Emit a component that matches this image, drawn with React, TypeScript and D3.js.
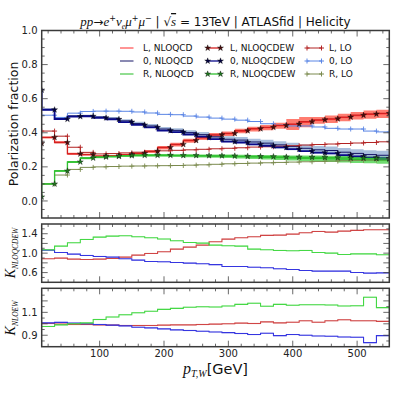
import React from 'react';
import * as d3 from 'd3';

// p_T,W bin edges in GeV, 27 bins of 20 GeV
const binEdges = [10, 30, 50, 70, 90, 110, 130, 150, 170, 190, 210, 230, 250, 270, 290, 310, 330, 350, 370, 390, 410, 430, 450, 470, 490, 510, 530, 550];

// NLO QCD+EW fractions, one value per edge (steps-pre, first point sits on the 10 GeV edge)
const fracL_NLOQCDEW = [0.337, 0.373, 0.343, 0.276, 0.272, 0.263, 0.265, 0.272, 0.279, 0.292, 0.314, 0.332, 0.355, 0.372, 0.388, 0.396, 0.412, 0.424, 0.432, 0.443, 0.451, 0.465, 0.476, 0.482, 0.492, 0.503, 0.51, 0.514];
const frac0_NLOQCDEW = [0.651, 0.535, 0.48, 0.495, 0.497, 0.488, 0.479, 0.463, 0.446, 0.432, 0.413, 0.404, 0.39, 0.377, 0.363, 0.348, 0.343, 0.332, 0.324, 0.314, 0.304, 0.292, 0.283, 0.279, 0.269, 0.261, 0.254, 0.249];
const fracR_NLOQCDEW = [0.024, 0.1, 0.176, 0.229, 0.252, 0.258, 0.262, 0.266, 0.268, 0.268, 0.268, 0.267, 0.267, 0.266, 0.265, 0.264, 0.262, 0.261, 0.26, 0.258, 0.257, 0.256, 0.255, 0.254, 0.252, 0.251, 0.249, 0.247];

// LO fractions, same layout
const fracL_LO = [0.41, 0.41, 0.38, 0.315, 0.285, 0.276, 0.278, 0.282, 0.286, 0.29, 0.294, 0.297, 0.3, 0.303, 0.306, 0.309, 0.312, 0.316, 0.318, 0.321, 0.324, 0.328, 0.331, 0.334, 0.337, 0.34, 0.343, 0.347];
const frac0_LO = [0.503, 0.503, 0.49, 0.515, 0.525, 0.527, 0.527, 0.526, 0.522, 0.516, 0.508, 0.506, 0.498, 0.492, 0.486, 0.48, 0.474, 0.466, 0.453, 0.445, 0.44, 0.44, 0.434, 0.426, 0.422, 0.422, 0.41, 0.405];
const fracR_LO = [0.1, 0.1, 0.152, 0.185, 0.197, 0.2, 0.202, 0.204, 0.205, 0.206, 0.207, 0.208, 0.21, 0.212, 0.215, 0.218, 0.22, 0.222, 0.224, 0.226, 0.228, 0.23, 0.232, 0.234, 0.236, 0.238, 0.24, 0.242];

// NLO QCD fractions per bin and half width of the scale band
const fracL_NLOQCD = [0.372, 0.344, 0.277, 0.272, 0.262, 0.264, 0.27, 0.277, 0.29, 0.312, 0.33, 0.353, 0.37, 0.386, 0.394, 0.41, 0.422, 0.43, 0.441, 0.449, 0.462, 0.473, 0.479, 0.489, 0.5, 0.507, 0.511];
const errL_NLOQCD = [0.006, 0.006, 0.006, 0.006, 0.006, 0.006, 0.007, 0.007, 0.008, 0.01, 0.011, 0.012, 0.012, 0.012, 0.013, 0.013, 0.014, 0.015, 0.018, 0.032, 0.03, 0.02, 0.022, 0.022, 0.022, 0.024, 0.024];
const frac0_NLOQCD = [0.537, 0.484, 0.499, 0.5, 0.492, 0.485, 0.47, 0.454, 0.44, 0.422, 0.414, 0.401, 0.389, 0.376, 0.362, 0.357, 0.346, 0.339, 0.329, 0.32, 0.309, 0.3, 0.296, 0.286, 0.279, 0.272, 0.268];
const err0_NLOQCD = [0.006, 0.006, 0.006, 0.006, 0.007, 0.008, 0.009, 0.01, 0.011, 0.012, 0.013, 0.014, 0.015, 0.016, 0.017, 0.018, 0.019, 0.02, 0.021, 0.022, 0.022, 0.023, 0.024, 0.025, 0.025, 0.026, 0.026];
const fracR_NLOQCD = [0.1, 0.176, 0.228, 0.251, 0.257, 0.261, 0.265, 0.267, 0.267, 0.267, 0.266, 0.265, 0.264, 0.263, 0.262, 0.26, 0.258, 0.256, 0.254, 0.252, 0.25, 0.249, 0.247, 0.245, 0.243, 0.241, 0.239];
const errR_NLOQCD = [0.005, 0.005, 0.006, 0.006, 0.006, 0.007, 0.007, 0.007, 0.008, 0.008, 0.008, 0.009, 0.009, 0.01, 0.01, 0.011, 0.012, 0.013, 0.014, 0.015, 0.016, 0.017, 0.018, 0.019, 0.02, 0.02, 0.021];

// K factors per bin
const kQCDEW_L = [0.884, 0.897, 0.876, 0.87, 0.876, 0.89, 0.918, 0.959, 0.994, 1.028, 1.082, 1.124, 1.165, 1.235, 1.289, 1.317, 1.338, 1.365, 1.371, 1.392, 1.42, 1.447, 1.433, 1.454, 1.468, 1.482, 1.482];
const kQCDEW_0 = [1.062, 1.014, 0.98, 0.953, 0.932, 0.918, 0.884, 0.856, 0.829, 0.822, 0.808, 0.794, 0.781, 0.764, 0.726, 0.726, 0.711, 0.7, 0.678, 0.664, 0.643, 0.629, 0.629, 0.63, 0.602, 0.588, 0.595];
const kQCDEW_R = [1.07, 1.144, 1.214, 1.282, 1.33, 1.35, 1.358, 1.338, 1.317, 1.29, 1.255, 1.22, 1.206, 1.165, 1.152, 1.145, 1.082, 1.07, 1.056, 1.05, 1.056, 1.014, 1.0, 0.973, 0.986, 0.986, 0.967];
const kEW_L = [1.003, 0.997, 0.994, 0.994, 0.991, 0.988, 0.985, 0.985, 0.985, 0.988, 0.991, 0.991, 0.994, 0.997, 1.0, 1.006, 1.003, 1.017, 1.008, 1.014, 1.026, 1.014, 1.026, 1.035, 1.026, 1.026, 1.021];
const kEW_0 = [1.008, 1.012, 1.006, 1.0, 0.994, 0.988, 0.982, 0.97, 0.964, 0.956, 0.947, 0.941, 0.935, 0.929, 0.923, 0.915, 0.906, 0.918, 0.897, 0.906, 0.9, 0.894, 0.891, 0.885, 0.882, 0.836, 0.897];
const kEW_R = [0.977, 0.991, 1.0, 1.008, 1.038, 1.059, 1.079, 1.097, 1.109, 1.126, 1.135, 1.144, 1.149, 1.147, 1.156, 1.17, 1.179, 1.153, 1.17, 1.162, 1.167, 1.167, 1.164, 1.156, 1.158, 1.232, 1.141];

const legendCols = [
  ['L, NLOQCD', '0, NLOQCD', 'R, NLOQCD'],
  ['L, NLOQCDEW', '0, NLOQCDEW', 'R, NLOQCDEW'],
  ['L, LO', '0, LO', 'R, LO'],
];

const col = {
  qcd: ['#ff2a2a', '#141466', '#22bb22'],
  band: ['#ff5040', '#6f93c4', '#33cc33'],
  bandOp: [0.75, 0.6, 0.7],
  ew: ['#d42020', '#0a0a8a', '#30c030'],
  star: ['#4a0a0a', '#000040', '#1f7a1f'],
  lo: ['#b22222', '#5b86e5', '#7b8a4e'],
  k: ['#d04545', '#3535e0', '#45d845'],
};

const sans = 'DejaVu Sans';
const serif = 'Liberation Serif';

export default function App() {
  const x = d3.scaleLinear().domain([10, 550]).range([41.7, 389.3]);
  const yMain = d3.scaleLinear().domain([-0.1, 1.0]).range([218, 30.5]);
  const yK1 = d3.scaleLinear().domain([0.4, 1.6]).range([282.3, 224]);
  const yK2 = d3.scaleLinear().domain([0.8, 1.31]).range([346.7, 288.3]);

  const binPts = (vals: number[]) =>
    binEdges.map((e, i) => [e, vals[Math.min(i, vals.length - 1)]]);
  const edgePts = (vals: number[]) => binEdges.map((e, i) => [e, vals[i]]);

  const stepAfter = (y: any) =>
    d3.line<number[]>().x(d => x(d[0])).y(d => y(d[1])).curve(d3.curveStepAfter);
  const stepBefore = (y: any) =>
    d3.line<number[]>().x(d => x(d[0])).y(d => y(d[1])).curve(d3.curveStepBefore);
  const band = (c: number[], e: number[], y: any) => {
    const pts = binEdges.map((b, i) => {
      const j = Math.min(i, c.length - 1);
      return [b, c[j] - e[j], c[j] + e[j]];
    });
    return d3.area<number[]>().x(d => x(d[0])).y0(d => y(d[1])).y1(d => y(d[2])).curve(d3.curveStepAfter)(pts) || '';
  };

  const star = d3.symbol(d3.symbolStar, 11)() || '';
  const plus = 'M-2.5,0H2.5M0,-2.5V2.5';

  const xMajor = [100, 200, 300, 400, 500];
  const xMinor = d3.range(20, 550, 20).filter(v => v % 100 !== 0);

  const frame = (key: string, y: any, major: number[], minor: number[], labels: number[], fmt: (v: number) => string, xLabels: boolean) => {
    const [yb, yt] = y.range();
    const [xl, xr] = x.range();
    return (
      <g key={key}>
        {xMajor.map(v => (
          <g key={'xM' + v} stroke="#444" strokeWidth={0.8}>
            <line x1={x(v)} x2={x(v)} y1={yb} y2={yb - 6} />
            <line x1={x(v)} x2={x(v)} y1={yt} y2={yt + 6} />
          </g>
        ))}
        {xMinor.map(v => (
          <g key={'xm' + v} stroke="#444" strokeWidth={0.8}>
            <line x1={x(v)} x2={x(v)} y1={yb} y2={yb - 3} />
            <line x1={x(v)} x2={x(v)} y1={yt} y2={yt + 3} />
          </g>
        ))}
        {major.map(v => (
          <g key={'yM' + v} stroke="#444" strokeWidth={0.8}>
            <line x1={xl} x2={xl + 6} y1={y(v)} y2={y(v)} />
            <line x1={xr} x2={xr - 6} y1={y(v)} y2={y(v)} />
          </g>
        ))}
        {minor.map(v => (
          <g key={'ym' + v} stroke="#444" strokeWidth={0.8}>
            <line x1={xl} x2={xl + 3} y1={y(v)} y2={y(v)} />
            <line x1={xr} x2={xr - 3} y1={y(v)} y2={y(v)} />
          </g>
        ))}
        {labels.map(v => (
          <text key={'yl' + v} x={37.5} y={y(v) + 3.6} textAnchor="end" fontSize={10} fontFamily={sans} fill="#222">
            {fmt(v)}
          </text>
        ))}
        {xLabels && xMajor.map(v => (
          <text key={'xl' + v} x={x(v)} y={357} textAnchor="middle" fontSize={10} fontFamily={sans} fill="#222">
            {v}
          </text>
        ))}
        <rect x={xl} y={yt} width={xr - xl} height={yb - yt} fill="none" stroke="#3a3a3a" strokeWidth={1.5} />
      </g>
    );
  };

  const fmt1 = d3.format('.1f');
  const qcd = [fracL_NLOQCD, frac0_NLOQCD, fracR_NLOQCD];
  const qcdErr = [errL_NLOQCD, err0_NLOQCD, errR_NLOQCD];
  const ew = [fracL_NLOQCDEW, frac0_NLOQCDEW, fracR_NLOQCDEW];
  const lo = [fracL_LO, frac0_LO, fracR_LO];
  const k1 = [kQCDEW_L, kQCDEW_0, kQCDEW_R];
  const k2 = [kEW_L, kEW_0, kEW_R];
  const legendY = [48, 61, 74];

  return (
    <svg width={399} height={399} style={{ position: 'absolute', left: 0, top: 0, background: '#fff' }}>
      <defs>
        <clipPath id="cMain"><rect x={41.7} y={30.5} width={347.6} height={187.5} /></clipPath>
        <clipPath id="cK1"><rect x={41.7} y={224} width={347.6} height={58.3} /></clipPath>
        <clipPath id="cK2"><rect x={41.7} y={288.3} width={347.6} height={58.4} /></clipPath>
      </defs>

      {/* main panel */}
      <g clipPath="url(#cMain)">
        {[0, 1, 2].map(i => (
          <path key={'b' + i} d={band(qcd[i], qcdErr[i], yMain)} fill={col.band[i]} opacity={col.bandOp[i]} />
        ))}
        {[0, 1, 2].map(i => (
          <path key={'q' + i} d={stepAfter(yMain)(binPts(qcd[i])) || ''} fill="none" stroke={col.qcd[i]} strokeWidth={1} />
        ))}
        {[0, 1, 2].map(i => (
          <g key={'lo' + i}>
            <path d={stepBefore(yMain)(edgePts(lo[i])) || ''} fill="none" stroke={col.lo[i]} strokeWidth={1} />
            {edgePts(lo[i]).map((p, j) => (
              <path key={j} d={plus} transform={`translate(${x(p[0])},${yMain(p[1])})`} stroke={col.lo[i]} strokeWidth={0.9} />
            ))}
          </g>
        ))}
        {[0, 1, 2].map(i => (
          <g key={'ew' + i}>
            <path d={stepBefore(yMain)(edgePts(ew[i])) || ''} fill="none" stroke={col.ew[i]} strokeWidth={i === 1 ? 1.8 : 1.3} />
            {edgePts(ew[i]).map((p, j) => (
              <path key={j} d={star} transform={`translate(${x(p[0])},${yMain(p[1])})`} fill={col.star[i]} stroke="#111" strokeWidth={0.4} />
            ))}
          </g>
        ))}
      </g>
      {frame('fMain', yMain, [0, 0.2, 0.4, 0.6, 0.8, 1.0], d3.range(-0.05, 1.0, 0.05).map(v => +v.toFixed(2)).filter(v => Math.abs(v * 5 - Math.round(v * 5)) > 1e-6), [0, 0.2, 0.4, 0.6, 0.8, 1.0], fmt1, false)}

      {/* legend */}
      {legendCols.map((c, ci) =>
        c.map((label, ri) => {
          const yy = legendY[ri];
          return (
            <g key={'lg' + ci + ri}>
              {ci === 0 && <line x1={120} x2={133.5} y1={yy} y2={yy} stroke={col.qcd[ri]} strokeWidth={1} />}
              {ci === 1 && (
                <g>
                  <line x1={207.7} x2={220.5} y1={yy} y2={yy} stroke={col.ew[ri]} strokeWidth={1.3} />
                  <path d={star} transform={`translate(207.7,${yy})`} fill={col.star[ri]} stroke="#111" strokeWidth={0.4} />
                  <path d={star} transform={`translate(220.5,${yy})`} fill={col.star[ri]} stroke="#111" strokeWidth={0.4} />
                </g>
              )}
              {ci === 2 && (
                <g stroke={col.lo[ri]} strokeWidth={1}>
                  <line x1={307} x2={321.5} y1={yy} y2={yy} />
                  <path d={plus} transform={`translate(307,${yy})`} />
                  <path d={plus} transform={`translate(321.5,${yy})`} />
                </g>
              )}
              <text x={[143, 230, 329][ci]} y={yy + 3.2} fontSize={9} fontFamily={sans} fill="#111">{label}</text>
            </g>
          );
        })
      )}

      {/* K_NLOQCDEW panel */}
      <g clipPath="url(#cK1)">
        {[0, 1, 2].map(i => (
          <g key={'k1' + i}>
            <path d={band(k1[i], k1[i].map(() => 0.012), yK1)} fill={col.k[i]} opacity={0.22} />
            <path d={stepAfter(yK1)(binPts(k1[i])) || ''} fill="none" stroke={col.k[i]} strokeWidth={1.1} />
          </g>
        ))}
      </g>
      {frame('fK1', yK1, [0.6, 0.8, 1.0, 1.2, 1.4], [0.5, 0.7, 0.9, 1.1, 1.3, 1.5], [0.6, 1.0, 1.4], fmt1, false)}

      {/* K_NLOEW panel */}
      <g clipPath="url(#cK2)">
        {[0, 1, 2].map(i => (
          <g key={'k2' + i}>
            <path d={band(k2[i], k2[i].map(() => 0.006), yK2)} fill={col.k[i]} opacity={0.22} />
            <path d={stepAfter(yK2)(binPts(k2[i])) || ''} fill="none" stroke={col.k[i]} strokeWidth={1.1} />
          </g>
        ))}
      </g>
      {frame('fK2', yK2, [0.9, 1.0, 1.1, 1.2], [0.85, 0.95, 1.05, 1.15, 1.25], [0.9, 1.1], fmt1, true)}

      {/* title */}
      <text x={215.5} y={26} textAnchor="middle" fontSize={12} fontFamily={sans} fill="#111">
        <tspan fontFamily={serif} fontStyle="italic" fontSize={13}>pp</tspan>
        <tspan fontSize={12}>→</tspan>
        <tspan fontFamily={serif} fontStyle="italic" fontSize={13}>e</tspan>
        <tspan fontSize={8} dy={-5}>+</tspan>
        <tspan fontFamily={serif} fontStyle="italic" fontSize={13} dy={5}>ν</tspan>
        <tspan fontFamily={serif} fontStyle="italic" fontSize={8} dy={3}>e</tspan>
        <tspan fontFamily={serif} fontStyle="italic" fontSize={13} dy={-3}>μ</tspan>
        <tspan fontSize={8} dy={-5}>+</tspan>
        <tspan fontFamily={serif} fontStyle="italic" fontSize={13} dy={5}>μ</tspan>
        <tspan fontSize={8} dy={-5}>−</tspan>
        <tspan dy={5}>{' | √'}</tspan>
        <tspan fontFamily={serif} fontStyle="italic" fontSize={13} textDecoration="overline">s</tspan>
        <tspan>{' = 13TeV | ATLASfid | Helicity'}</tspan>
      </text>

      {/* axis titles */}
      <text transform="translate(18,124) rotate(-90)" textAnchor="middle" fontSize={12.5} fontFamily={sans} fill="#111">
        Polarization fraction
      </text>
      <text transform="translate(15,253) rotate(-90)" textAnchor="middle" fontFamily={serif} fontStyle="italic" fill="#111">
        <tspan fontSize={14}>K</tspan>
        <tspan fontSize={7.5} dy={2.5}>NLOQCDEW</tspan>
      </text>
      <text transform="translate(15,318) rotate(-90)" textAnchor="middle" fontFamily={serif} fontStyle="italic" fill="#111">
        <tspan fontSize={14}>K</tspan>
        <tspan fontSize={7.5} dy={2.5}>NLOEW</tspan>
      </text>
      <text x={215.5} y={374} textAnchor="middle" fill="#111">
        <tspan fontFamily={serif} fontStyle="italic" fontSize={16}>p</tspan>
        <tspan fontFamily={serif} fontStyle="italic" fontSize={10} dy={3}>T,W</tspan>
        <tspan fontFamily={sans} fontSize={14.5} dy={-3}>[GeV]</tspan>
      </text>
    </svg>
  );
}
